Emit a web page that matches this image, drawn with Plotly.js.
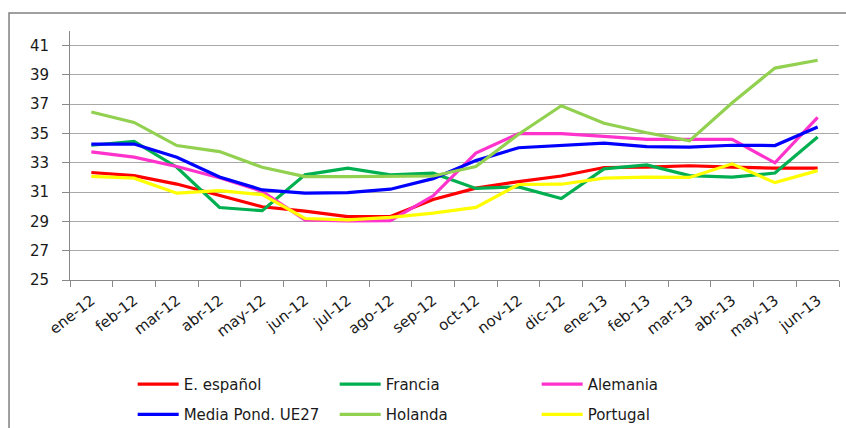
<!DOCTYPE html>
<html>
<head>
<meta charset="utf-8">
<script src="https://cdn.plot.ly/plotly-3.0.1.min.js"></script>
<style>
html,body{margin:0;padding:0;background:#fff;}
#chart{width:846px;height:428px;}
</style>
</head>
<body>
<div id="chart"></div>
<script>
var months = ['ene-12','feb-12','mar-12','abr-12','may-12','jun-12','jul-12','ago-12','sep-12','oct-12','nov-12','dic-12','ene-13','feb-13','mar-13','abr-13','may-13','jun-13'];
var espanol  = [32.34, 32.13, 31.55, 30.75, 30.0, 29.7, 29.33, 29.33, 30.5, 31.27, 31.72, 32.1, 32.68, 32.7, 32.8, 32.7, 32.64, 32.64];
var francia  = [34.2, 34.46, 32.7, 29.95, 29.73, 32.18, 32.64, 32.18, 32.29, 31.25, 31.36, 30.56, 32.59, 32.86, 32.13, 32.02, 32.3, 34.76];
var alemania = [33.75, 33.39, 32.75, 31.98, 31.05, 29.1, 29.03, 29.05, 30.75, 33.66, 35.0, 35.0, 34.8, 34.6, 34.6, 34.6, 33.0, 36.1];
var media    = [34.28, 34.28, 33.38, 32.03, 31.15, 30.93, 30.97, 31.2, 31.92, 33.15, 34.03, 34.2, 34.35, 34.1, 34.07, 34.2, 34.18, 35.44];
var holanda  = [36.47, 35.76, 34.18, 33.77, 32.7, 32.06, 32.06, 32.06, 32.1, 32.75, 34.95, 36.9, 35.7, 35.05, 34.5, 37.1, 39.47, 40.0];
var portugal = [32.07, 31.95, 30.93, 31.1, 30.83, 29.2, 29.1, 29.28, 29.56, 29.96, 31.52, 31.54, 31.95, 32.02, 32.0, 32.93, 31.65, 32.47];

var seriesNames = ['E. español','Francia','Alemania','Media Pond. UE27','Holanda','Portugal'];
var seriesData = [espanol, francia, alemania, media, holanda, portugal];
var seriesColors = ['#ff0000','#00b050','#ff33cc','#0000ff','#92d050','#ffff00'];
var seriesLegend = ['legend','legend','legend','legend2','legend2','legend2'];

var traces = seriesNames.map(function(n, i){
  return {
    x: months, y: seriesData[i], name: n, type: 'scatter', mode: 'lines',
    line: {color: seriesColors[i], width: 3.2},
    legend: seriesLegend[i]
  };
});

var FONT = 'DejaVu Sans';
var legendCommon = {
  orientation: 'h', xanchor: 'left', yanchor: 'top',
  entrywidth: 146, itemwidth: 41,
  font: {family: FONT, size: 15, color: '#1a1a1a'},
  bgcolor: 'rgba(0,0,0,0)'
};

var layout = {
  width: 846, height: 428,
  margin: {l: 70, r: 7, t: 31, b: 148, autoexpand: false},
  paper_bgcolor: '#ffffff', plot_bgcolor: '#ffffff',
  font: {family: FONT, size: 15, color: '#1a1a1a'},
  showlegend: true,
  legend: Object.assign({x: 0.0815, y: -0.353}, legendCommon),
  legend2: Object.assign({x: 0.0815, y: -0.474}, legendCommon),
  xaxis: {
    type: 'category', tickangle: -38, showgrid: false, automargin: false,
    showline: true, linecolor: '#888888', linewidth: 1,
    ticks: 'outside', ticklen: 6, tickcolor: '#888888', tickson: 'boundaries',
    ticklabelstandoff: 5,
    tickfont: {family: FONT, size: 15, color: '#1a1a1a'},
    range: [-0.5, 17.5], fixedrange: true
  },
  yaxis: {
    range: [25, 42], tick0: 25, dtick: 2, automargin: false,
    showgrid: true, gridcolor: '#a8a8a8', gridwidth: 1, zeroline: false,
    showline: true, linecolor: '#888888', linewidth: 1,
    ticks: 'outside', ticklen: 7, tickcolor: '#888888', ticklabelstandoff: 10,
    tickfont: {family: FONT, size: 15, color: '#1a1a1a'}, fixedrange: true
  },
  shapes: [{
    type: 'rect', xref: 'paper', yref: 'paper',
    x0: -0.0793, x1: 1.3, y0: -1.2, y1: 1.0723,
    line: {color: '#808080', width: 1.5}, fillcolor: 'rgba(0,0,0,0)', layer: 'below'
  }]
};

Plotly.newPlot('chart', traces, layout, {displayModeBar: false, staticPlot: true});
</script>
</body>
</html>
